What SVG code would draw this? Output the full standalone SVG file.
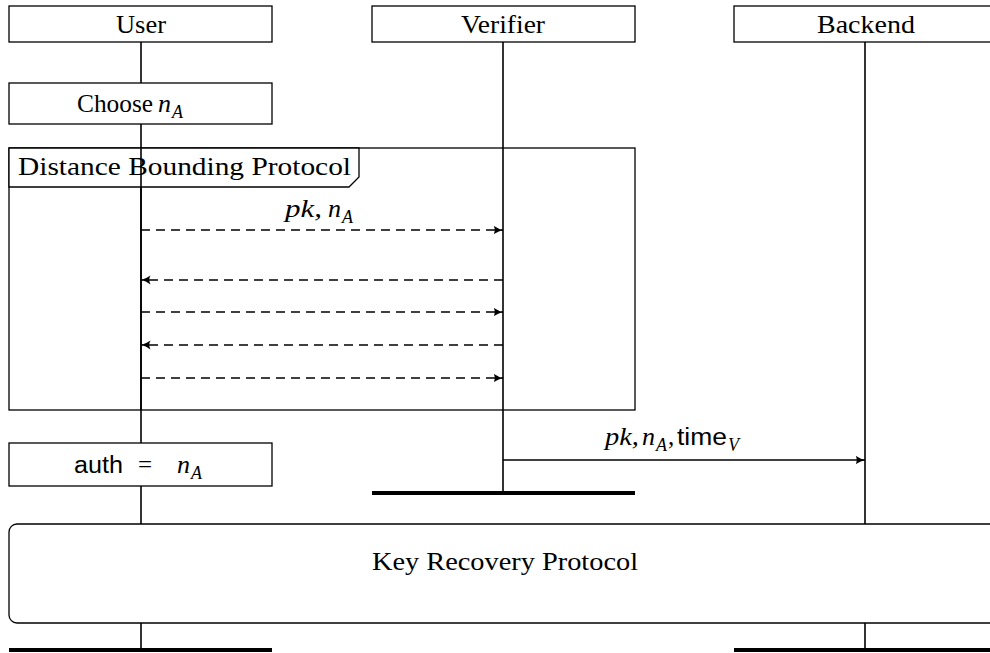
<svg xmlns="http://www.w3.org/2000/svg" width="990" height="653" viewBox="0 0 990 653">
  <style>
    .box { fill: #fff; stroke: #000; stroke-width: 1.3; }
    .life { stroke: #000; stroke-width: 1.6; fill: none; }
    .end { stroke: #000; stroke-width: 4; }
    .msg { stroke: #000; stroke-width: 1.3; fill: none; }
    .dash { stroke-dasharray: 9 6; }
    text { font-family: "Liberation Serif", "DejaVu Serif", serif; font-size: 25px; fill: #000; }
    .sans { font-family: "Liberation Sans", "DejaVu Sans", sans-serif; font-size: 23px; font-style: normal; }
    .it { font-style: italic; font-size: 26px; }
    .sub { font-size: 18px; font-style: italic; }
  </style>
  <defs>
    <marker id="arr" viewBox="0 0 10 10" refX="9.5" refY="5" markerWidth="10" markerHeight="10" markerUnits="userSpaceOnUse" orient="auto">
      <path d="M0,0.6 Q5,4.2 10,5 Q5,5.8 0,9.4 Q2.5,5 0,0.6 Z" fill="#000"/>
    </marker>
  </defs>

  <!-- lifelines -->
  <g id="lifelines">
    <line class="life" x1="141" y1="42" x2="141" y2="650"/>
    <line class="life" x1="503" y1="42" x2="503" y2="493"/>
    <line class="life" x1="865" y1="42" x2="865" y2="650"/>
  </g>

  <!-- participants -->
  <g id="user">
    <rect class="box" x="9" y="6" width="263" height="36"/>
    <text x="116" y="33" textLength="50" lengthAdjust="spacingAndGlyphs">User</text>
  </g>
  <g id="verifier">
    <rect class="box" x="372" y="6" width="263" height="36"/>
    <text x="461" y="33" textLength="84" lengthAdjust="spacingAndGlyphs">Verifier</text>
  </g>
  <g id="backend">
    <rect class="box" x="734" y="6" width="263" height="36"/>
    <text x="817" y="33" textLength="98" lengthAdjust="spacingAndGlyphs">Backend</text>
  </g>

  <!-- user action -->
  <g id="choose">
    <rect class="box" x="9" y="83" width="263" height="41"/>
    <text x="77" y="112" textLength="76" lengthAdjust="spacingAndGlyphs">Choose</text>
    <text x="158" y="112" class="it">n</text>
    <text x="172" y="118" class="sub">A</text>
  </g>

  <!-- distance bounding frame -->
  <g id="distance-bounding">
    <rect x="9" y="148" width="626" height="262" fill="none" stroke="#000" stroke-width="1.3"/>
    <path d="M9,148 H359 V177 L349,187 H9 Z" fill="#fff" stroke="#000" stroke-width="1.3"/>
    <text x="18" y="175" textLength="333" lengthAdjust="spacingAndGlyphs">Distance Bounding Protocol</text>
    <line class="life" x1="141" y1="148" x2="141" y2="410"/>
  </g>

  <!-- messages -->
  <g id="connectors">
    <line class="msg dash" x1="141" y1="230" x2="503" y2="230" marker-end="url(#arr)"/>
    <text x="285" y="217" class="it" textLength="37" lengthAdjust="spacingAndGlyphs">pk,</text>
    <text x="328" y="217" class="it">n</text>
    <text x="342" y="223" class="sub">A</text>
    <line class="msg dash" x1="503" y1="280" x2="141" y2="280" marker-end="url(#arr)"/>
    <line class="msg dash" x1="141" y1="312" x2="503" y2="312" marker-end="url(#arr)"/>
    <line class="msg dash" x1="503" y1="345" x2="141" y2="345" marker-end="url(#arr)"/>
    <line class="msg dash" x1="141" y1="378" x2="503" y2="378" marker-end="url(#arr)"/>
    <line class="msg" x1="503" y1="460" x2="865" y2="460" marker-end="url(#arr)"/>
    <text x="605" y="445" class="it" textLength="34" lengthAdjust="spacingAndGlyphs">pk,</text>
    <text x="642" y="445" class="it">n</text>
    <text x="656" y="451" class="sub">A</text>
    <text x="668" y="445">,</text>
    <text x="677" y="445" class="sans" textLength="50" lengthAdjust="spacingAndGlyphs">time</text>
    <text x="728" y="451" class="sub">V</text>
  </g>

  <!-- auth assignment -->
  <g id="auth">
    <rect class="box" x="9" y="443" width="263" height="43"/>
    <text x="74" y="473" class="sans" textLength="49" lengthAdjust="spacingAndGlyphs">auth</text>
    <text x="138" y="473">=</text>
    <text x="177" y="473" class="it">n</text>
    <text x="191" y="479" class="sub">A</text>
  </g>

  <!-- verifier end -->
  <line class="end" x1="372" y1="493" x2="635" y2="493"/>

  <!-- key recovery -->
  <g id="key-recovery">
    <rect class="box" x="9" y="524" width="990" height="99" rx="8" ry="8"/>
    <text x="372" y="570" textLength="266" lengthAdjust="spacingAndGlyphs">Key Recovery Protocol</text>
  </g>

  <!-- ends -->
  <line class="end" x1="9" y1="650" x2="272" y2="650"/>
  <line class="end" x1="734" y1="650" x2="997" y2="650"/>
</svg>
